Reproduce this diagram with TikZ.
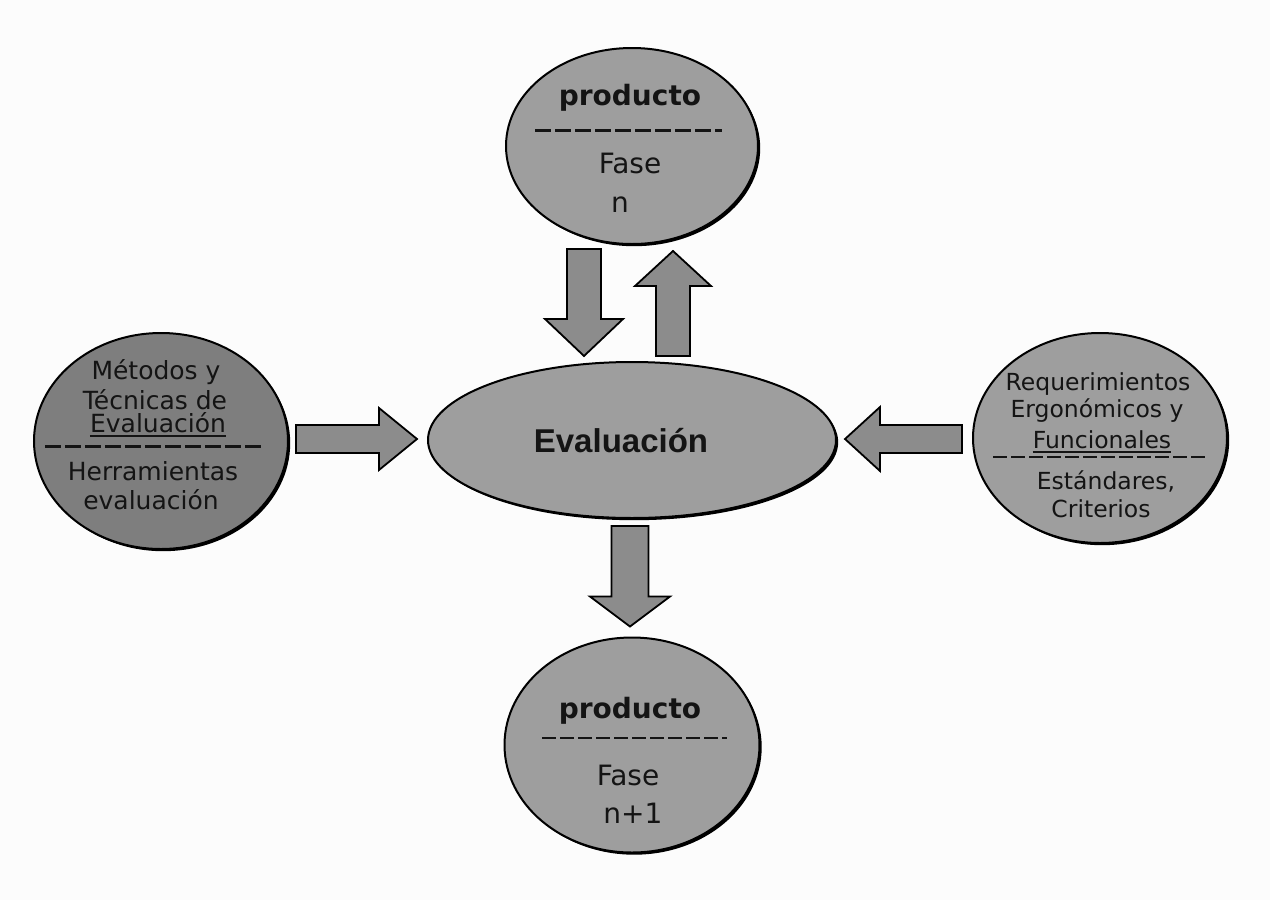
\documentclass[tikz,border=0pt]{standalone}
\usepackage{fontspec}
\setmainfont{DejaVu Sans}
\newfontfamily\evalfont{Liberation Sans}
\usetikzlibrary{shapes.geometric,calc,shadows}

\definecolor{paper}{HTML}{FCFCFC}
\definecolor{bubblegray}{HTML}{9E9E9E}
\definecolor{darkbubble}{HTML}{7E7E7E}
\definecolor{arrowgray}{HTML}{8C8C8C}
\definecolor{ink}{HTML}{141414}

\tikzset{
  bubble/.style={ellipse, draw=black, line width=2pt, fill=bubblegray, inner sep=0pt,
    drop shadow={shadow xshift=2.2pt, shadow yshift=-2.2pt, fill=black, opacity=1}},
  arrowbody/.style={draw=black, line width=1.8pt, fill=arrowgray, line join=miter},
  sidetxt/.style={font=\fontsize{25}{30}\selectfont, text=ink, inner sep=0pt, anchor=base},
  reqtxt/.style={font=\fontsize{23.5}{28}\selectfont, text=ink, inner sep=0pt, anchor=base},
  phasetxt/.style={font=\fontsize{28}{33}\selectfont, text=ink, inner sep=0pt, anchor=base},
  prodtxt/.style={font=\fontsize{28}{33}\selectfont\bfseries, text=ink, inner sep=0pt, anchor=base},
  evaltxt/.style={font=\evalfont\fontsize{33}{38}\selectfont\bfseries, text=ink, inner sep=0pt, anchor=base},
  heavydash/.style={draw=ink, line width=3pt, dash pattern=on 16pt off 4pt},
  lightdash/.style={draw=ink, line width=1.6pt, dash pattern=on 14pt off 4pt},
  underline/.style={draw=ink, line width=1.6pt}
}

% block arrow: from, to, half shaft width, half head width, head length
\newcommand\blockarr[5]{%
  \draw[arrowbody]
    ($(#1)!#3!90:(#2)$) --
    ($($(#2)!#5!(#1)$)!#3!90:(#2)$) --
    ($($(#2)!#5!(#1)$)!#4!90:(#2)$) --
    (#2) --
    ($($(#2)!#5!(#1)$)!#4!-90:(#2)$) --
    ($($(#2)!#5!(#1)$)!#3!-90:(#2)$) --
    ($(#1)!#3!-90:(#2)$) -- cycle;}

\begin{document}
\begin{tikzpicture}[x=1pt, y=-1pt]
  \fill[paper] (0,0) rectangle (1270,900);
  \useasboundingbox (0,0) rectangle (1270,900);

  % the five bubbles
  \node[bubble, minimum width=252pt, minimum height=196pt] (top) at (632,146) {};
  \node[bubble, minimum width=255pt, minimum height=215pt] (bot) at (632,745) {};
  \node[bubble, fill=darkbubble, minimum width=254pt, minimum height=216pt] (left) at (161,441) {};
  \node[bubble, minimum width=254pt, minimum height=210pt] (right) at (1100,438) {};
  \node[bubble, minimum width=408pt, minimum height=156pt] (eval) at (632,440) {};

  % arrow end points
  \coordinate (a1s) at ($(top.south)+(-48,4)$);
  \coordinate (a1e) at ($(eval.north)+(-48,-5)$);
  \coordinate (a2s) at ($(eval.north)+(41,-5)$);
  \coordinate (a2e) at ($(top.south)+(41,6)$);
  \coordinate (a3s) at ($(left.east)+(7,-2)$);
  \coordinate (a3e) at ($(eval.west)+(-10,-1)$);
  \coordinate (a4s) at ($(right.west)+(-10,1)$);
  \coordinate (a4e) at ($(eval.east)+(8,-1)$);
  \coordinate (a5s) at ($(eval.south)+(-2,7)$);
  \coordinate (a5e) at ($(bot.north)+(-2,-10)$);

  \blockarr{a1s}{a1e}{17pt}{39pt}{37pt}
  \blockarr{a2s}{a2e}{17pt}{38pt}{35pt}
  \blockarr{a3s}{a3e}{14pt}{31pt}{38pt}
  \blockarr{a4s}{a4e}{14pt}{32pt}{35pt}
  \blockarr{a5s}{a5e}{18.5pt}{40pt}{30pt}

  % centre
  \node[evaltxt] (evallabel) at (621,452) {Evaluación};

  % top product
  \node[prodtxt] (prodtop) at (630,105) {producto};
  \coordinate (tdl) at (535,130); \coordinate (tdr) at (722,130);
  \draw[heavydash] (tdl) -- (tdr);
  \node[phasetxt] (fasetop) at (630,173) {Fase};
  \node[phasetxt] (ntop) at (620,212) {n};

  % bottom product
  \node[prodtxt] (prodbot) at (630,718) {producto};
  \coordinate (bdl) at (542,738); \coordinate (bdr) at (727,738);
  \draw[lightdash] (bdl) -- (bdr);
  \node[phasetxt] (fasebot) at (628,785) {Fase};
  \node[phasetxt] (nbot) at (633,823) {n+1};

  % methods and tools
  \node[sidetxt] (m1) at (156,379) {Métodos y};
  \node[sidetxt] (m2) at (155,409) {Técnicas de};
  \node[sidetxt] (m3) at (158,432) {Evaluación};
  \draw[underline] ($(m3.base west)+(0,4)$) -- ($(m3.base east)+(0,4)$);
  \coordinate (ldl) at (45,446); \coordinate (ldr) at (262,446);
  \draw[heavydash] (ldl) -- (ldr);
  \node[sidetxt] (m4) at (153,480) {Herramientas};
  \node[sidetxt] (m5) at (151,509) {evaluación};

  % requirements and standards
  \node[reqtxt] (r1) at (1098,390) {Requerimientos};
  \node[reqtxt] (r2) at (1097,417) {Ergonómicos y};
  \node[reqtxt] (r3) at (1102,448) {Funcionales};
  \draw[underline] ($(r3.base west)+(0,4)$) -- ($(r3.base east)+(0,4)$);
  \coordinate (rdl) at (993,457); \coordinate (rdr) at (1205,457);
  \draw[lightdash] (rdl) -- (rdr);
  \node[reqtxt] (r4) at (1106,489) {Estándares,};
  \node[reqtxt] (r5) at (1101,517) {Criterios};
\end{tikzpicture}
\end{document}
